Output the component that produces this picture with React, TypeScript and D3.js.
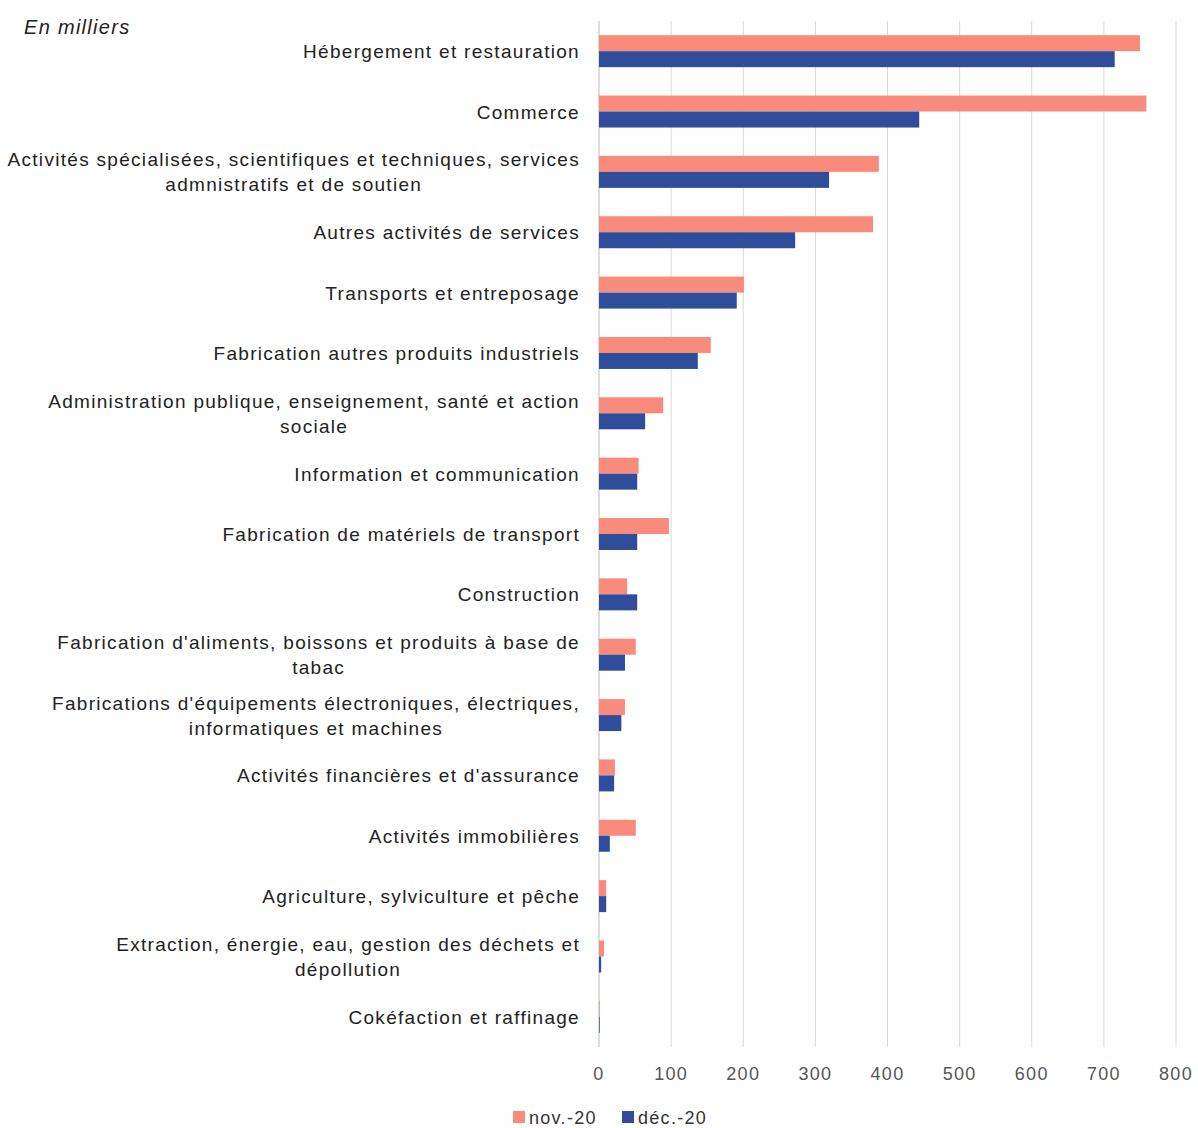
import React from "react";
import * as d3 from "d3";

const categories = [
  ["Hébergement et restauration"],
  ["Commerce"],
  ["Activités spécialisées, scientifiques et techniques, services", "admnistratifs et de soutien"],
  ["Autres activités de services"],
  ["Transports et entreposage"],
  ["Fabrication autres produits industriels"],
  ["Administration publique, enseignement, santé et action", "sociale"],
  ["Information et communication"],
  ["Fabrication de matériels de transport"],
  ["Construction"],
  ["Fabrication d'aliments, boissons et produits à base de", "tabac"],
  ["Fabrications d'équipements électroniques, électriques,", "informatiques et machines"],
  ["Activités financières et d'assurance"],
  ["Activités immobilières"],
  ["Agriculture, sylviculture et pêche"],
  ["Extraction, énergie, eau, gestion des déchets et", "dépollution"],
  ["Cokéfaction et raffinage"],
];
const nov20 = [750, 759, 388, 380, 201, 155, 89, 55, 97, 39, 51, 36, 22, 51, 10, 7, 1];
const dec20 = [715, 444, 319, 272, 191, 137, 64, 53, 53, 53, 36, 31, 21, 15, 10, 3, 1];
const ticks = [0, 100, 200, 300, 400, 500, 600, 700, 800];

const PINK = "#F98B7D";
const BLUE = "#2F4D9A";
const FONT = "'Liberation Sans', Arial, sans-serif";
const LS = 1.3;

function measure(s: string, size: number) {
  const c = document.createElement("canvas").getContext("2d")!;
  c.font = `${size}px ${FONT}`;
  return c.measureText(s).width + LS * s.length;
}

export default function App() {
  const x = d3.scaleLinear().domain([0, 800]).range([599, 1176]);
  const y = d3.scaleBand<number>().domain(d3.range(categories.length)).range([21, 1047]);
  const bh = 16;
  return (
    <svg width={1198} height={1128} style={{ position: "absolute", left: 0, top: 0, fontFamily: FONT, letterSpacing: LS }}>
      <rect width={1198} height={1128} fill="#fff" />
      <text x={24} y={34} fontSize={20} fontStyle="italic" fill="#222">En milliers</text>
      {ticks.map((t) => (
        <g key={t}>
          <line x1={x(t)} x2={x(t)} y1={21} y2={1047} stroke={t === 0 ? "#bbb" : "#d9d9d9"} strokeWidth={1} />
          <text x={x(t)} y={1080} fontSize={18} textAnchor="middle" fill="#555">{t}</text>
        </g>
      ))}
      {categories.map((lines, i) => {
        const c = y(i)! + y.bandwidth() / 2;
        const w = Math.max(...lines.map((l) => measure(l, 19)));
        const mid = 580 - w / 2;
        return (
          <g key={i}>
            <rect x={x(0)} y={c - bh} width={x(nov20[i]) - x(0)} height={bh} fill={PINK} />
            <rect x={x(0)} y={c} width={x(dec20[i]) - x(0)} height={bh} fill={BLUE} />
            {lines.map((l, k) => (
              <text key={k} x={lines.length > 1 ? mid : 580} y={c + 7 + (k - (lines.length - 1) / 2) * 25} fontSize={19} textAnchor={lines.length > 1 ? "middle" : "end"} fill="#222">{l}</text>
            ))}
          </g>
        );
      })}
      <rect x={513} y={1111} width={12} height={12} fill={PINK} />
      <text x={529} y={1124} fontSize={18} fill="#333">nov.-20</text>
      <rect x={622} y={1111} width={12} height={12} fill={BLUE} />
      <text x={638} y={1124} fontSize={18} fill="#333">déc.-20</text>
    </svg>
  );
}
